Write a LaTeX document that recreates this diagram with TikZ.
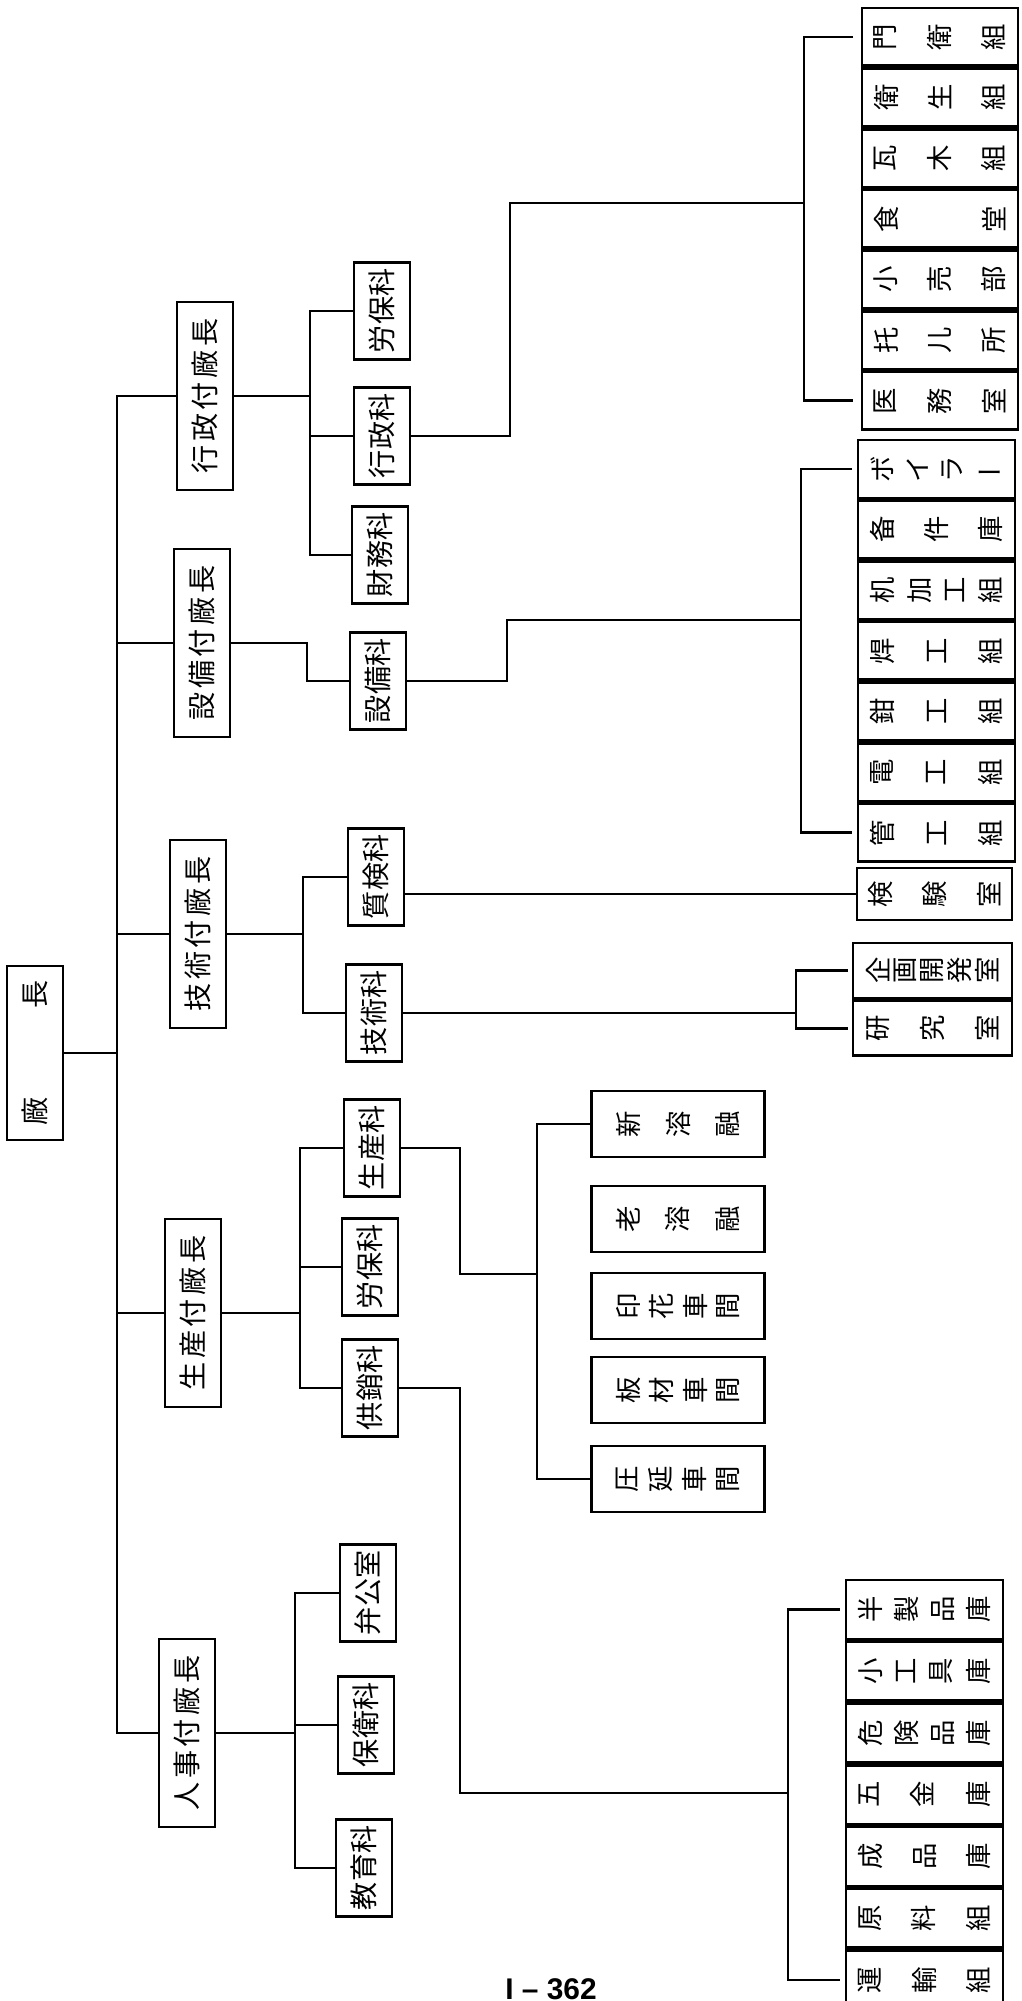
\documentclass[tikz,border=0pt]{standalone}
\usepackage{fontspec}
\setmainfont{Noto Sans CJK JP}
\newfontfamily\numfont{Liberation Sans}
\usetikzlibrary{positioning}

% horizontal label, turned to read upwards
\newcommand{\hl}[2]{\rotatebox{90}{\makebox[#1][s]{\foreach \ch [count=\idx] in {#2}{\ifnum\idx>1\hfil\fi\ch}}}}
% vertical label, each glyph turned
\newcommand{\vl}[2]{\makebox[#1][s]{\foreach \ch [count=\idx] in {#2}{\ifnum\idx>1\hfil\fi\rotatebox{90}{\ch}}}}

\begin{document}
\begin{tikzpicture}[
    x=0.01cm, y=-0.01cm,
    line width=0.8pt,
    box/.style={draw, inner sep=0pt, minimum width=0.56cm, fill=white},
    dep/.style={box, minimum height=1.88cm, font=\fontsize{8pt}{8pt}\selectfont},
    sec/.style={box, minimum height=0.97cm, font=\fontsize{8pt}{8pt}\selectfont},
    leaf/.style={draw, inner sep=0pt, minimum width=#1, minimum height=0.578cm, font=\fontsize{7.5pt}{7.5pt}\selectfont},
    leaf/.default=1.56cm,
]
    \fill[white] (0,0) rectangle (1021,2001);
    \useasboundingbox (0,0) rectangle (1021,2001);

    \node[box, minimum height=1.74cm, font=\fontsize{8pt}{8pt}\selectfont] (boss) at (35,1053) {\hl{1.45cm}{廠,長}};

    \node[dep] (dA) at (205,396) {\hl{1.55cm}{行,政,付,廠,長}};
    \node[dep] (dB) at (202,643) {\hl{1.55cm}{設,備,付,廠,長}};
    \node[dep] (dC) at (198,934) {\hl{1.55cm}{技,術,付,廠,長}};
    \node[dep] (dD) at (193,1313) {\hl{1.55cm}{生,産,付,廠,長}};
    \node[dep] (dE) at (187,1733) {\hl{1.55cm}{人,事,付,廠,長}};

    \node[sec] (sA1) at (382,311) {\hl{0.84cm}{労,保,科}};
    \node[sec] (sA2) at (382,436) {\hl{0.84cm}{行,政,科}};
    \node[sec] (sA3) at (380,555) {\hl{0.84cm}{財,務,科}};
    \node[sec] (sB1) at (378,681) {\hl{0.84cm}{設,備,科}};
    \node[sec] (sC1) at (376,877) {\hl{0.84cm}{質,検,科}};
    \node[sec] (sC2) at (374,1013) {\hl{0.84cm}{技,術,科}};
    \node[sec] (sD1) at (372,1148) {\hl{0.84cm}{生,産,科}};
    \node[sec] (sD2) at (370,1267) {\hl{0.84cm}{労,保,科}};
    \node[sec] (sD3) at (370,1388) {\hl{0.84cm}{供,銷,科}};
    \node[sec] (sE1) at (368,1593) {\hl{0.84cm}{弁,公,室}};
    \node[sec] (sE2) at (366,1725) {\hl{0.84cm}{保,衛,科}};
    \node[sec] (sE3) at (364,1868) {\hl{0.84cm}{教,育,科}};

    % leaf blocks on the right
    \node[leaf] (a1) at (940,37) {\vl{1.32cm}{門,衛,組}};
    \node[leaf, below=0pt of a1] (a2) {\vl{1.32cm}{衛,生,組}};
    \node[leaf, below=0pt of a2] (a3) {\vl{1.32cm}{瓦,木,組}};
    \node[leaf, below=0pt of a3] (a4) {\vl{1.32cm}{食,堂}};
    \node[leaf, below=0pt of a4] (a5) {\vl{1.32cm}{小,売,部}};
    \node[leaf, below=0pt of a5] (a6) {\vl{1.32cm}{托,儿,所}};
    \node[leaf, below=0pt of a6] (a7) {\vl{1.32cm}{医,務,室}};

    \node[leaf=1.57cm] (b1) at (936.5,469) {\vl{1.32cm}{ボ,イ,ラ,{\rotatebox{-90}{ー}}}};
    \node[leaf=1.57cm, below=0pt of b1] (b2) {\vl{1.32cm}{备,件,庫}};
    \node[leaf=1.57cm, below=0pt of b2] (b3) {\vl{1.32cm}{机,加,工,組}};
    \node[leaf=1.57cm, below=0pt of b3] (b4) {\vl{1.32cm}{焊,工,組}};
    \node[leaf=1.57cm, below=0pt of b4] (b5) {\vl{1.32cm}{鉗,工,組}};
    \node[leaf=1.57cm, below=0pt of b5] (b6) {\vl{1.32cm}{電,工,組}};
    \node[leaf=1.57cm, below=0pt of b6] (b7) {\vl{1.32cm}{管,工,組}};

    \node[leaf=1.55cm, minimum height=0.52cm] (lab) at (934.5,894) {\vl{1.32cm}{検,験,室}};
    \node[leaf=1.59cm, minimum height=0.55cm] (r1) at (932.5,970.5) {\vl{1.32cm}{企,画,開,発,室}};
    \node[leaf=1.59cm, minimum height=0.55cm, below=0pt of r1] (r2) {\vl{1.32cm}{研,究,室}};

    \node[leaf=1.73cm, minimum height=0.66cm] (w1) at (678,1124) {\vl{1.24cm}{新,溶,融}};
    \node[leaf=1.73cm, minimum height=0.66cm] (w2) at (678,1219) {\vl{1.24cm}{老,溶,融}};
    \node[leaf=1.73cm, minimum height=0.66cm] (w3) at (678,1306) {\vl{1.24cm}{印,花,車,間}};
    \node[leaf=1.73cm, minimum height=0.66cm] (w4) at (678,1390) {\vl{1.24cm}{板,材,車,間}};
    \node[leaf=1.73cm, minimum height=0.66cm] (w5) at (678,1479) {\vl{1.24cm}{圧,延,車,間}};

    \node[leaf=1.57cm, minimum height=0.589cm] (c1) at (924.5,1609.5) {\vl{1.32cm}{半,製,品,庫}};
    \node[leaf=1.57cm, minimum height=0.589cm, below=0pt of c1] (c2) {\vl{1.32cm}{小,工,具,庫}};
    \node[leaf=1.57cm, minimum height=0.589cm, below=0pt of c2] (c3) {\vl{1.32cm}{危,険,品,庫}};
    \node[leaf=1.57cm, minimum height=0.589cm, below=0pt of c3] (c4) {\vl{1.32cm}{五,金,庫}};
    \node[leaf=1.57cm, minimum height=0.589cm, below=0pt of c4] (c5) {\vl{1.32cm}{成,品,庫}};
    \node[leaf=1.57cm, minimum height=0.589cm, below=0pt of c5] (c6) {\vl{1.32cm}{原,料,組}};
    \node[leaf=1.57cm, minimum height=0.589cm, below=0pt of c6] (c7) {\vl{1.32cm}{運,輸,組}};

    \node[font=\numfont\bfseries\fontsize{8.5pt}{8.5pt}\selectfont] (pg) at (551,1989) {I – 362};

    % trunk and branches
    \coordinate (tr) at (117,0);
    \coordinate (jA) at (310,0);
    \coordinate (jB) at (307,0);
    \coordinate (jC) at (303,0);
    \coordinate (jD) at (300,0);
    \coordinate (jE) at (295,0);

    \draw (dA.west) -- (dA.west -| tr) -- (dE.west -| tr) -- (dE.west);
    \foreach \n in {boss.east, dB.west, dC.west, dD.west}
        \draw (\n) -- (\n -| tr);

    \draw (dA.east) -- (dA.east -| jA);
    \draw (sA1.west) -- (sA1.west -| jA) -- (sA3.west -| jA) -- (sA3.west);
    \draw (sA2.west) -- (sA2.west -| jA);
    \draw (dB.east) -- (dB.east -| jB) |- (sB1.west);
    \draw (dC.east) -- (dC.east -| jC);
    \draw (sC1.west) -- (sC1.west -| jC) -- (sC2.west -| jC) -- (sC2.west);
    \draw (dD.east) -- (dD.east -| jD);
    \draw (sD1.west) -- (sD1.west -| jD) -- (sD3.west -| jD) -- (sD3.west);
    \draw (sD2.west) -- (sD2.west -| jD);
    \draw (dE.east) -- (dE.east -| jE);
    \draw (sE1.west) -- (sE1.west -| jE) -- (sE3.west -| jE) -- (sE3.west);
    \draw (sE2.west) -- (sE2.west -| jE);

    % brackets to the leaf blocks
    \coordinate (hA) at (510,203);
    \coordinate (bA) at (804,0);
    \coordinate (tkA) at (853,0);
    \draw (sA2.east) -| (hA) -- (hA -| bA);
    \draw (a1.west -| tkA) -- (a1.west -| bA) -- (a7.west -| bA) -- (a7.west -| tkA);

    \coordinate (hB) at (507,620);
    \coordinate (bB) at (801,0);
    \coordinate (tkB) at (852,0);
    \draw (sB1.east) -| (hB) -- (hB -| bB);
    \draw (b1.west -| tkB) -- (b1.west -| bB) -- (b7.west -| bB) -- (b7.west -| tkB);

    \draw (sC1.east |- lab.west) -- (lab.west);

    \coordinate (bC) at (796,0);
    \coordinate (tkC) at (848,0);
    \draw (sC2.east) -- (sC2.east -| bC);
    \draw (r1.west -| tkC) -- (r1.west -| bC) -- (r2.west -| bC) -- (r2.west -| tkC);

    \coordinate (hD) at (460,1274);
    \coordinate (bD) at (537,0);
    \draw (sD1.east) -| (hD) -- (hD -| bD);
    \draw (w1.west) -- (w1.west -| bD) -- (w5.west -| bD) -- (w5.west);

    \coordinate (hE) at (460,1793);
    \coordinate (bE) at (788,0);
    \coordinate (tkE) at (840,0);
    \draw (sD3.east) -| (hE) -- (hE -| bE);
    \draw (c1.west -| tkE) -- (c1.west -| bE) -- (c7.west -| bE) -- (c7.west -| tkE);
\end{tikzpicture}
\end{document}
